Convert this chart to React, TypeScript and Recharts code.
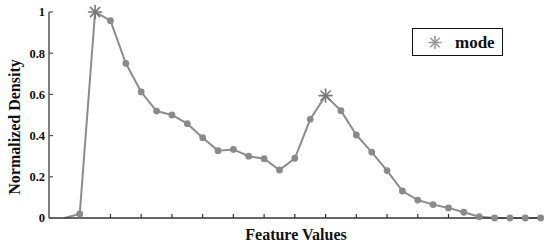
import React from "react";
import { ComposedChart, Line, XAxis, YAxis, Label } from "recharts";

const indices = Array.from({ length: 32 }, (_, i) => i);
const densities = [
  0, 0.02, 1.0, 0.958, 0.751, 0.612, 0.519, 0.5, 0.458, 0.39, 0.327, 0.333,
  0.3, 0.288, 0.233, 0.29, 0.479, 0.594, 0.521, 0.403, 0.32, 0.23, 0.131,
  0.087, 0.065, 0.049, 0.028, 0.006, 0, 0, 0, 0,
];
const modeIndices = [2, 17];
const hiddenDotIndices = [0];
const xTicks = [3, 5, 7, 9, 11, 13, 15, 17, 19, 21, 23, 25];
const yTicks = [0, 0.2, 0.4, 0.6, 0.8, 1];
const yTickLabels = ["0", "0.2", "0.4", "0.6", "0.8", "1"];
const legendLabel = "mode";

const data = indices.map((i) => ({ x: i, y: densities[i] }));

const FONT = '"Liberation Serif", "Times New Roman", serif';

const Asterisk = ({ cx, cy, r, color, sw }: any) => {
  const d = r * Math.SQRT1_2;
  return (
    <g stroke={color} strokeWidth={sw} strokeLinecap="round">
      <line x1={cx - r} y1={cy} x2={cx + r} y2={cy} />
      <line x1={cx} y1={cy - r} x2={cx} y2={cy + r} />
      <line x1={cx - d} y1={cy - d} x2={cx + d} y2={cy + d} />
      <line x1={cx - d} y1={cy + d} x2={cx + d} y2={cy - d} />
    </g>
  );
};

const renderDot = (props: any) => {
  const { cx, cy, index } = props;
  if (hiddenDotIndices.includes(index)) return <g key={`d${index}`} />;
  if (modeIndices.includes(index))
    return (
      <g key={`d${index}`}>
        <Asterisk cx={cx} cy={cy} r={6.5} color="#777" sw={1.6} />
      </g>
    );
  return <circle key={`d${index}`} cx={cx} cy={cy} r={3.4} fill="#8a8a8a" />;
};

const LegendBox = () => (
  <div
    style={{
      position: "absolute",
      left: 412,
      top: 28,
      width: 89,
      height: 26,
      border: "1.5px solid #111",
      background: "#fff",
    }}
  >
    <svg width={89} height={26} style={{ position: "absolute", left: 0, top: 0 }}>
      <Asterisk cx={22} cy={13.5} r={6} color="#999" sw={1.6} />
      <text x={42} y={19} fontFamily={FONT} fontWeight="bold" fontSize={17} fill="#111">
        {legendLabel}
      </text>
    </svg>
  </div>
);

export default function App() {
  return (
    <div style={{ position: "absolute", left: 0, top: 0, width: 550, height: 244, background: "#fff" }}>
      <ComposedChart
        width={550}
        height={244}
        data={data}
        margin={{ top: 12, right: 7, bottom: 0, left: 0 }}
      >
        <XAxis
          dataKey="x"
          type="number"
          domain={[-1, 31.15]}
          ticks={xTicks}
          tickFormatter={() => ""}
          tick={{ fontSize: 1 }}
          tickSize={-4}
          height={26}
          axisLine={{ stroke: "#333", strokeWidth: 1.5 }}
          tickLine={{ stroke: "#333", strokeWidth: 1.2 }}
        >
          <Label
            content={({ viewBox }: any) => (
              <text
                x={viewBox.x + viewBox.width / 2}
                y={viewBox.y + 22}
                textAnchor="middle"
                fontFamily={FONT}
                fontWeight="bold"
                fontSize={16}
                fill="#111"
              >
                Feature Values
              </text>
            )}
          />
        </XAxis>
        <YAxis
          type="number"
          domain={[0, 1]}
          ticks={yTicks}
          width={49}
          tickSize={-4}
          tickMargin={8}
          tickFormatter={(v: number) => yTickLabels[yTicks.indexOf(v)] ?? String(v)}
          tick={{ fontFamily: FONT, fontWeight: "bold", fontSize: 12.5, fill: "#111" }}
          axisLine={{ stroke: "#555", strokeWidth: 1.5 }}
          tickLine={{ stroke: "#555", strokeWidth: 1.2 }}
        >
          <Label
            content={({ viewBox }: any) => {
              const cx = 14.5;
              const cy = viewBox.y + viewBox.height / 2 + 12;
              return (
                <text
                  x={cx}
                  y={cy}
                  transform={`rotate(-90 ${cx} ${cy})`}
                  textAnchor="middle"
                  dominantBaseline="central"
                  fontFamily={FONT}
                  fontWeight="bold"
                  fontSize={16}
                  fill="#111"
                >
                  Normalized Density
                </text>
              );
            }}
          />
        </YAxis>
        <Line
          type="linear"
          dataKey="y"
          stroke="#8c8c8c"
          strokeWidth={2}
          dot={renderDot}
          activeDot={false}
          isAnimationActive={false}
        />
      </ComposedChart>
      <LegendBox />
    </div>
  );
}
